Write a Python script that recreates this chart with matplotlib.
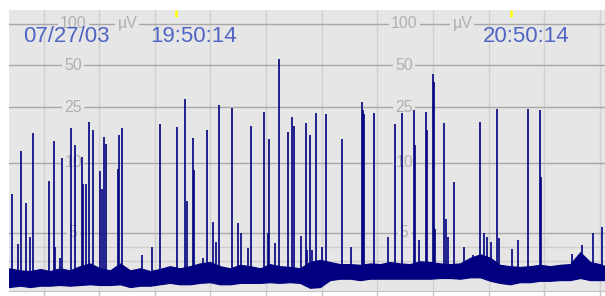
import matplotlib

matplotlib.use("Agg")
import matplotlib.pyplot as plt
import numpy as np

plt.rcParams["font.family"] = ["Liberation Sans", "DejaVu Sans"]

# time in minutes from the left edge (19:50:14 sits at 30 min)
band_t = [0, 2.0, 3.8, 5.6, 7.3, 9.1, 10.9, 12.7, 14.5, 16.3, 18.1, 19.9, 21.7,
          23.5, 25.3, 27.0, 28.8, 30.6, 32.4, 34.2, 36.0, 37.8, 39.6, 41.4, 43.2,
          45.0, 46.7, 48.5, 50.3, 52.1, 53.9, 55.7, 57.5, 59.3, 61.1, 62.9, 64.7,
          66.5, 68.2, 70.0, 71.8, 73.6, 75.4, 77.2, 79.0, 80.8, 82.6, 84.4, 86.2,
          87.9, 89.7, 91.5, 93.3, 95.1, 96.9, 98.7, 100.5, 102.3, 104.1, 105.8, 106.8]
band_hi = [2.45, 2.3, 2.25, 2.4, 2.25, 2.45, 2.3, 2.6, 2.8, 2.45, 2.3, 2.8, 2.3,
           2.45, 2.25, 2.4, 2.6, 2.45, 2.6, 2.8, 2.9, 2.6, 2.45, 2.7, 2.6,
           2.45, 2.75, 2.6, 2.55, 2.45, 2.9, 3.05, 2.9, 2.75, 2.75, 2.7, 2.8,
           2.75, 2.9, 2.8, 2.75, 2.95, 2.9, 2.8, 2.75, 2.8, 3.2, 3.45, 3.2,
           2.7, 2.6, 2.55, 2.6, 2.7, 2.6, 2.7, 2.75, 3.6, 2.9, 2.75, 2.6]
band_lo = [1.1, 1.2, 1.1, 1.2, 1.2, 1.25, 1.2, 1.25, 1.3, 1.25, 1.25, 1.3, 1.1,
           1.2, 1.2, 1.3, 1.4, 1.3, 1.3, 1.4, 1.45, 1.3, 1.3, 1.4, 1.4,
           1.4, 1.45, 1.4, 1.45, 1.4, 1.05, 1.1, 1.6, 1.7, 1.7, 1.6, 1.7,
           1.7, 1.7, 1.7, 1.7, 1.7, 1.7, 1.75, 1.75, 1.7, 1.8, 1.8, 1.55,
           1.4, 1.3, 1.45, 1.45, 1.55, 1.55, 1.6, 1.6, 1.75, 1.6, 1.6, 1.6]

spike_t = [0.5, 1.6, 2.2, 3.0, 3.8, 4.3, 7.2, 8.1, 8.2, 9.1, 9.5, 11.1, 11.8,
           13.1, 13.3, 13.8, 14.3, 15.0, 16.3, 16.7, 17.0, 17.4, 19.5, 19.7, 20.2,
           23.8, 25.6, 27.0, 30.1, 31.5, 31.8, 33.0, 33.1, 34.7, 35.5, 36.5, 37.1,
           37.6, 39.9, 41.0, 41.5, 42.8, 43.3, 45.7, 46.4, 46.6, 47.6, 48.4, 50.0,
           50.7, 51.0, 52.3, 53.2, 53.4, 53.9, 54.3, 55.0, 56.1, 56.8, 59.6, 61.3,
           63.2, 63.4, 63.6, 65.4, 67.9, 69.1, 70.4, 72.5, 72.7, 73.4, 74.7, 74.9,
           75.9, 76.1, 76.3, 77.9, 78.3, 78.6, 79.7, 81.5, 83.1, 84.4, 85.1, 85.6,
           86.3, 87.4, 87.8, 90.1, 91.2, 93.0, 95.1, 95.3, 100.8, 102.6, 104.6, 106.2]
spike_v = [7.8, 4.2, 12.1, 7.1, 4.7, 16.3, 8.7, 14.3, 4.0, 3.2, 10.8, 17.7, 13.4,
           11.0, 8.5, 8.5, 19.6, 17.1, 9.4, 8.1, 15.3, 13.6, 9.6, 16.0, 17.7,
           3.4, 4.0, 18.9, 18.0, 28.6, 7.3, 15.0, 9.5, 3.2, 17.1, 5.8, 4.3,
           25.9, 24.7, 5.7, 5.0, 3.9, 18.3, 23.1, 5.0, 14.8, 4.25, 55.5, 16.6,
           21.3, 18.3, 4.75, 19.2, 3.75, 16.0, 3.75, 22.7, 4.0, 22.3, 14.8, 4.0,
           27.2, 23.9, 22.3, 22.7, 4.7, 18.9, 22.7, 23.9, 13.4, 4.5, 23.1, 17.1,
           43.3, 37.9, 5.3, 19.2, 6.0, 4.7, 8.6, 4.0, 3.4, 19.6, 5.0, 4.7,
           4.3, 24.3, 4.6, 3.8, 4.5, 24.3, 23.9, 9.0, 3.5, 4.1, 5.0, 5.4]

grid_t = [6.2, 16.1, 26.1, 36.0, 46.0, 56.1, 65.9, 75.9, 86.0, 95.8, 105.9]
major_levels = [100, 50, 25, 10, 5]
minor_levels = [3, 4]
level_labels = ["100", "50", "25", "10", "5"]
date_text = "07/27/03"
time_marks = [30, 90]
time_labels = ["19:50:14", "20:50:14"]
time_label_left = [25.3, 84.9]


def fwd(v):
    v = np.asarray(v, dtype=float)
    return np.where(v <= 10, v / 10.0, 1 + np.log10(np.maximum(v, 10) / 10.0))


def inv(f):
    f = np.asarray(f, dtype=float)
    return np.where(f <= 1, f * 10.0, 10.0 * 10 ** (f - 1))


BG = "#e6e6e6"
NAVY = "#000080"
LBL = "#b0b0b0"
BLUE = "#5064c4"

fig = plt.figure(figsize=(6.05, 2.96), dpi=100)
ax = fig.add_axes([9 / 605, 5 / 296, 596 / 605, 281 / 296])
ax.set_facecolor(BG)
ax.set_yscale("function", functions=(fwd, inv))
ax.set_xlim(0, 106.75)
ax.set_ylim(0.82, 125)

for s in ("top", "left", "right"):
    ax.spines[s].set_visible(False)
ax.spines["bottom"].set_color("#c4c4c4")
ax.set_yticks([])
ax.set_xticks(grid_t)
ax.set_xticklabels([])
ax.tick_params(axis="x", direction="out", length=5, color="#c4c4c4", width=1)

for g in grid_t:
    ax.axvline(g, color="#d0d0d0", lw=1, zorder=1)
for lv in major_levels:
    ax.axhline(lv, color="#a8a8a8", lw=1, zorder=1)
for lv in minor_levels:
    ax.axhline(lv, color="#cdcdcd", lw=1, zorder=1)

# level labels, left and right columns, breaking the grid lines
for col_t, unit_t in ((11.5, 21.2), (70.8, 81.2)):
    for lv, lab in zip(major_levels, level_labels):
        ax.text(col_t, lv, lab, color=LBL, fontsize=11.5, ha="center", va="center",
                zorder=2, bbox=dict(facecolor=BG, edgecolor="none", pad=1.5))
    ax.text(unit_t, 100, "µV", color=LBL, fontsize=11.5, ha="center", va="center",
            zorder=2, bbox=dict(facecolor=BG, edgecolor="none", pad=1.5))

ax.fill_between(band_t, band_lo, band_hi, color=NAVY, lw=0.8, zorder=3)
ax.vlines(spike_t, 1.8, spike_v, color=NAVY, lw=1.2, zorder=3)

# header texts
ax.text(2.5, 74, date_text, color=BLUE, fontsize=16, ha="left", va="baseline",
        zorder=5)
for tm, lab, lx in zip(time_marks, time_labels, time_label_left):
    ax.text(lx, 74, lab, color=BLUE, fontsize=16, ha="left", va="baseline",
            zorder=5)
    ax.plot([tm, tm], [111, 125], color="#ffff00", lw=1.8, zorder=5,
            solid_capstyle="butt")

fig.savefig("out.png", dpi=100, facecolor="white")
